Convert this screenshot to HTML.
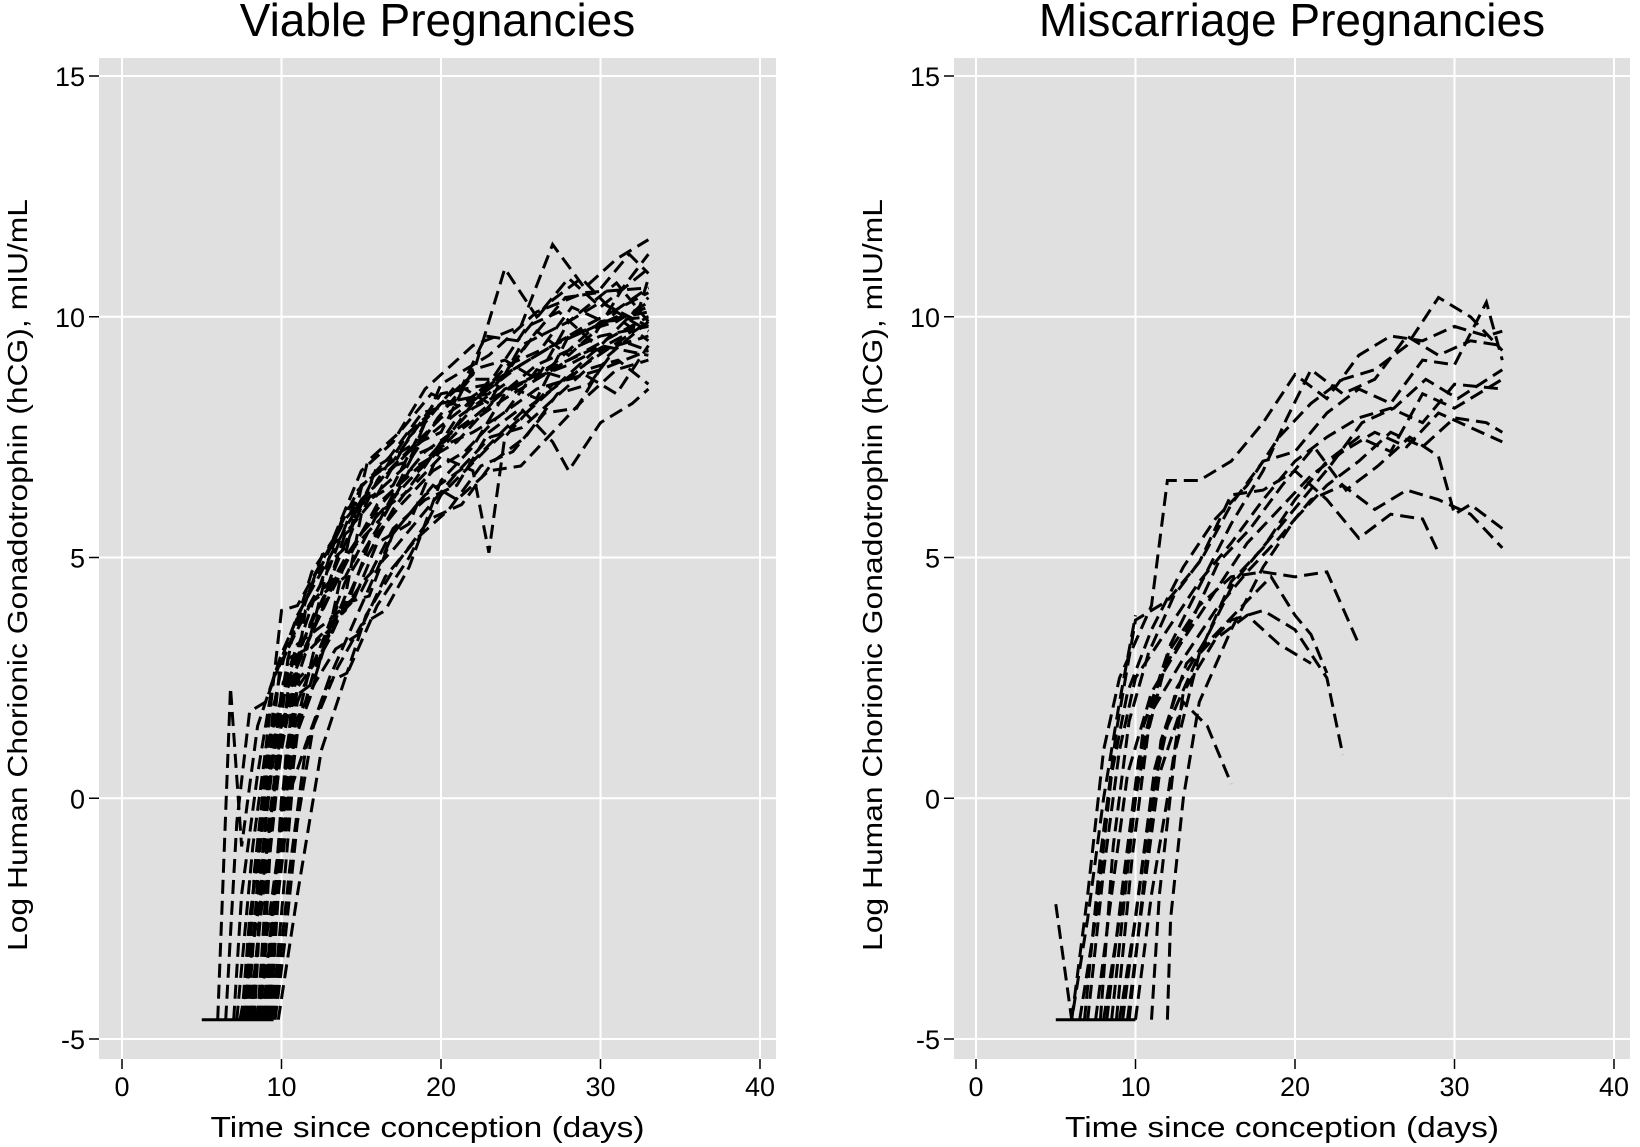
<!DOCTYPE html>
<html><head><meta charset="utf-8"><style>
html,body{margin:0;padding:0;background:#fff;}
svg{display:block;font-family:"Liberation Sans",Arial,sans-serif;}
</style></head><body>
<svg id="chart" width="1640" height="1147" viewBox="0 0 1640 1147" xmlns="http://www.w3.org/2000/svg"></svg>
<script>
// ---- data ----
const xTicks = [0, 10, 20, 30, 40];
const yTicks = [-5, 0, 5, 10, 15];
const panelTitles = ["Viable Pregnancies", "Miscarriage Pregnancies"];
const xAxisTitle = "Time since conception (days)";
const yAxisTitle = "Log Human Chorionic Gonadotrophin (hCG), mIU/mL";

const viableSeries = [
 [[5,-4.6],[9.5,-4.6]],
 [[6,-4.6],[6.8,2.3],[7.5,-1],[8.5,1.5],[10,3],[12,4.5],[14,5.8],[17,6.9],[20,7.9],[24,8.8],[28,9.6],[33,10.2]],
 [[6.5,-4.6],[7.2,-0.5],[8,1.8],[9,2],[11,3.8],[13,5],[15,6.2],[18,7.2],[21,8],[25,9],[29,9.8],[33,10.5]],
 [[7,-4.6],[7.5,-2],[8.5,0.5],[9.5,2.5],[11,3.5],[13,4.8],[15,6.5],[17,7],[20,8.4],[23,8.6],[27,9.4],[31,10],[33,9.5]],
 [[7.5,-4.6],[8,-2.5],[9,0],[10,2],[12,3.5],[14,5],[16,6],[19,7.2],[22,7.9],[26,9],[30,9.6],[33,9.8]],
 [[8,-4.6],[8.5,-3],[9,-1],[10,1.5],[11,2.8],[13,4.2],[15,5.5],[18,6.6],[21,7.6],[24,8.3],[28,9.1],[33,10]],
 [[8.5,-4.6],[9,-2],[9.8,0.5],[10.5,2.5],[12,3.8],[14,4.9],[16,6.1],[19,7],[22,8.1],[26,8.8],[30,9.4],[33,9.2]],
 [[9,-4.6],[9.5,-2.5],[10,0],[11,2],[12.5,3.2],[14,4.5],[16,5.6],[18,6.8],[21,7.4],[24,8.5],[28,9],[32,9.7],[33,10.8]],
 [[9.5,-4.6],[10.5,-1.5],[11.5,1],[13,2.5],[15,4],[17,5.5],[19,6.3],[22,7],[25,8],[29,9],[33,9.9]],
 [[9.8,-4.6],[11,-2],[12.5,1],[14,2.5],[16,4],[18,5],[20,6.3],[23,7.3],[26,8.2],[30,9.4],[33,10.4]],
 [[7.2,-4.6],[8.2,-1],[9,1],[10,3.9],[11,4],[13,5.2],[15,6.8],[17,7.4],[19,8.5],[22,9.4],[25,9.8],[27,11.5],[29,10.6],[31,11.2],[33,11.6]],
 [[8,-4.6],[9,-1.5],[10,1],[11,2.8],[12,3.5],[14,5.5],[16,6.3],[18,7.5],[20,8.2],[22,8.8],[24,11],[26,10],[28,10.8],[30,10.2],[33,11]],
 [[8.7,-4.6],[9.3,-1],[10,1.5],[11.5,3],[13,3.5],[14.5,5.8],[16,6.8],[18,7],[20,8.6],[23,9.2],[26,10.1],[29,10.5],[33,10.6]],
 [[7.8,-4.6],[8.3,-1.5],[9.2,1.2],[10.5,2.6],[12,4.1],[14,4.6],[16,5.9],[18,6.4],[20,7.1],[22,6.8],[23,5.1],[24,7.5],[27,8.6],[30,8.9],[33,9.3]],
 [[8.2,-4.6],[9,-0.5],[10,2.2],[11,3.2],[13,3.7],[15,4.3],[17,5.6],[19,6.2],[21,6.5],[23,7.6],[25,8.1],[27,7.4],[28,6.8],[30,7.8],[32,8.2],[33,8.5]],
 [[9.2,-4.6],[10,-1],[11,1.4],[12,2.6],[14,4.2],[15,5.9],[16,6.6],[18,7.6],[20,8.2],[23,8.4],[26,9.7],[28,9.2],[31,10.1],[33,9.7]],
 [[8.9,-4.6],[9.6,-2],[10.3,1],[11,2.3],[12.5,3],[13,3.3],[15,4.8],[17,6],[19,6.9],[21,7.9],[24,8.6],[26,8.3],[28,9.6],[31,9.9],[33,10.3]],
 [[7.6,-4.6],[8.4,-2.5],[9.4,0.8],[10.4,2],[12,2.4],[13.5,4],[15.5,4.2],[17,5.5],[19.5,6.5],[21,6.2],[23,6.8],[25,6.9],[27,7.6],[29,8.3],[31,8.9],[33,9.1]],
 [[9.6,-4.6],[10.2,-3],[11,-0.5],[12,1.5],[13.5,2.7],[15,3.6],[16.5,3.9],[18,4.8],[20,6.6],[22,7.3],[24,8.4],[27,9],[30,9.9],[33,10.1]],
 [[8.4,-4.6],[9.2,-3.2],[9.8,-1],[10.6,1.8],[11.5,3.9],[13,4.5],[15,6.1],[17,6.5],[19,7.8],[21,8.6],[23,8.2],[25,9.4],[28,9.9],[31,10.7],[33,9.9]],
 [[7.4,-4.6],[8,-3.5],[8.8,-1.8],[9.6,0.3],[10.4,2.9],[11.6,3.1],[13,4.9],[14,5.2],[16,6.9],[18,7.3],[20,7.6],[22,8.9],[24,9.1],[26,8.7],[28,9.9],[30,10.3],[33,9.8]],
 [[8.6,-4.6],[9.1,-2.8],[10,-0.6],[10.8,1.2],[11.8,2.1],[13,3.6],[14.5,4.1],[16,5.3],[18,5.7],[20,7.3],[22,7.6],[24,8],[26,8.9],[28,8.7],[30,9.3],[33,9.6]],
 [[9.3,-4.6],[9.8,-2],[10.5,0],[11.2,1.9],[12.2,3.3],[14,3.9],[15.5,5.3],[17.5,6.1],[19.5,6.8],[21.5,7.2],[23.5,7.9],[26,8.5],[29,8.8],[31,8.4],[33,9.4]],
 [[8.1,-4.6],[8.7,-2.2],[9.4,-0.2],[10.1,2.4],[11.4,3.3],[12.8,4.3],[14.2,5.1],[16.2,5.8],[18.2,7.1],[20.2,7.4],[22.2,8.3],[24.2,9],[26.2,9.3],[28.2,10.2],[30.2,9.9],[33,10]],
 [[7.9,-4.6],[8.6,-1.2],[9.5,1.9],[10.2,3],[11.2,3.7],[12.4,4.4],[14,6],[15.8,6.3],[17.8,6.9],[19.8,7.9],[21.8,8.7],[23.8,8.7],[25.8,9.6],[27.8,10.4],[29.8,10.5],[31.8,11.3],[33,10.9]],
 [[9.1,-4.6],[9.7,-1.6],[10.3,0.7],[11.1,2.5],[12.3,2.9],[13.7,3.8],[15.1,4.5],[17.1,5.2],[19.1,6],[21.1,6.8],[23.1,7.5],[25.1,7.7],[27.1,8.3],[29.1,8.9],[31.1,9.1],[33,8.6]],
 [[8.3,-4.6],[8.9,-0.8],[9.7,1.6],[10.7,3.4],[11.9,4.7],[13.3,5.4],[14.8,6.4],[16.8,7.1],[18.8,8],[20.8,8.2],[22.8,9.6],[24.8,9.5],[26.8,10.3],[28.8,10.8],[30.8,10.1],[33,10.6]],
 [[8.8,-4.6],[9.4,-2.6],[10.1,-0.3],[10.9,1.6],[12.1,2.4],[13.4,3.1],[14.8,3.4],[16.5,4.6],[18.5,5.4],[20.5,6],[22.5,6.9],[24.5,7.2],[26.5,8],[28.5,8.1],[30.5,9.2],[33,9.9]],
 [[7.7,-4.6],[8.2,-2],[9.1,0.2],[9.9,2.7],[11,3.6],[12.6,5.1],[14.4,5.6],[15.4,7],[17.4,7.6],[19.4,8.4],[21.4,8.1],[23.4,8.8],[25.4,9.8],[27.4,10.1],[29.4,9.5],[31.4,10.6],[33,11.3]],
 [[9.4,-4.6],[10,-2.4],[10.7,0.3],[11.5,1.1],[12.9,2.4],[14.1,2.6],[15.3,3.8],[17.3,4.9],[19.3,5.8],[21.3,6.1],[23.3,7],[25.3,7.5],[27.3,8.4],[29.3,8.6],[31.3,9.5],[33,9.3]]
];

const miscarriageSeries = [
 [[5,-4.6],[10,-4.6]],
 [[5,-2.2],[6,-4.6],[7,-2.5],[8,0],[9,2],[10,3.8]],
 [[6,-4.6],[7,-2],[8,1],[9,2.5],[11,4],[12,6.6],[14,6.6],[16,7],[18,7.8],[20,8.8],[22,8.3],[24,9.2],[26,9.6],[28,9.5],[30,9.8],[32,9.6],[33,9.7]],
 [[6.5,-4.6],[7.5,-2.5],[8.5,0.5],[9.5,2.2],[11,3.5],[13,4.8],[15,5.8],[17,6.5],[19,7.5],[21,8.2],[23,8.7],[25,8.9],[27,9.4],[29,10.4],[31,10],[33,9.3]],
 [[7,-4.6],[8,-1.5],[9,1],[10,2.5],[12,3.5],[14,4.5],[16,5.3],[18,6.2],[20,7],[22,7.5],[24,7.9],[26,8.1],[28,7.8],[30,8.6],[33,8.5]],
 [[7.5,-4.6],[8.5,-2],[9.5,0.5],[11,2.2],[13,3.3],[15,4.3],[17,5.3],[19,6],[21,6.7],[23,7.2],[25,7.6],[27,7.3],[29,8],[31,7.7],[33,7.4]],
 [[8,-4.6],[9,-2.5],[10,0],[11,1.8],[13,2.9],[15,3.9],[17,4.7],[19,5.4],[21,6.2],[23,6.5],[25,6],[27,6.4],[29,6.2],[31,5.9],[33,5.2]],
 [[8.5,-4.6],[9.5,-1.5],[10.5,1.5],[12,3],[14,4],[16,4.6],[18,4.7],[20,4.6],[22,4.7],[24,3.2]],
 [[9,-4.6],[10,-2.5],[11,0],[12,1.5],[14,3],[16,3.7],[18,3.9],[20,3.5],[22,2.5],[23,0.9]],
 [[9.5,-4.6],[10.5,-2],[11.5,0.5],[13,2],[14.5,1.5],[16,0.3]],
 [[10,-4.6],[11,-2],[12,0],[13,2.2],[15,3.3],[17,3.8],[19,3.2],[21,2.8]],
 [[12,-4.6],[12.2,-2.5],[13,0],[14,2],[16,3.5],[18,4.8],[20,5.8],[22,6.5],[24,7],[26,7.6],[28,7.3],[30,7.9],[32,7.8],[33,7.6]],
 [[11,-4.6],[11.5,-2],[12.5,1],[14,3],[16,4.5],[18,5.2],[20,6.2],[22,7],[24,7.5],[26,7.2],[28,8.4],[30,8.1],[33,8.7]],
 [[7.8,-4.6],[8.6,-1],[9.6,1.6],[10.8,3],[12.4,4.2],[14.2,5],[16,6.1],[18,7],[20,7.2],[22,8],[24,8.5],[26,8.2],[28,9.1],[30,9],[32,10.3],[33,9.1]],
 [[8.2,-4.6],[9.2,-1.8],[10.2,0.8],[11.6,2.6],[13.4,3.6],[15.2,4.9],[17.2,5.6],[19.2,6.5],[21.2,7.3],[23.2,6.4],[25.2,6.9],[27.2,7.5],[29,7.1],[30,5.9],[31,6.1],[33,5.6]],
 [[9.2,-4.6],[10.1,-2.2],[11.2,0.6],[12.6,2.3],[14.4,3.3],[16.2,4.5],[18.2,5.3],[20.2,6.1],[22.2,6.9],[24.2,7.8],[26.2,8.1],[28.2,8.7],[30.2,8.3],[33,8.9]],
 [[6.8,-4.6],[7.8,-1.2],[8.8,1.4],[10,3.7],[12,4.1],[14,4.9],[16,6.3],[18,6.4],[20,6.8],[22,6.2],[24,5.4],[26,5.9],[28,5.8],[29,5.1]],
 [[8.8,-4.6],[9.8,-1.2],[10.8,1.4],[12.2,3.2],[14,4.4],[16,5.7],[18,6.8],[19.5,7.9],[21,8.9],[23,8.4],[25,8.7],[27,9.6],[29,9.2],[31,9.5],[33,9.4]],
 [[9.6,-4.6],[10.6,-1.5],[11.6,1.2],[13.2,2.8],[15,3.4],[17,4.1],[18.5,4.6],[20,3.8],[21,3.4],[22,2.6]]
];
const allSeries = [viableSeries, miscarriageSeries];

// ---- layout ----
const NS = "http://www.w3.org/2000/svg";
const svgRoot = document.getElementById("chart");
const panels = [
  {left:99, right:776, x0:122, x40:760},
  {left:954, right:1630, x0:976, x40:1614}
];
const plotTop = 58, plotBottom = 1059, y15 = 76, yM5 = 1039;
function yScale(v){ return yM5 + (v + 5) * (y15 - yM5) / 20; }
function mk(tag, attrs, parent){
  const e = document.createElementNS(NS, tag);
  for (const k in attrs) e.setAttribute(k, attrs[k]);
  (parent || svgRoot).appendChild(e);
  return e;
}

panels.forEach((p, pi) => {
  const xScale = v => p.x0 + v * (p.x40 - p.x0) / 40;
  const g = mk("g", {});
  
  

  const bg = mk("rect", {x:p.left, y:plotTop, width:p.right - p.left, height:plotBottom - plotTop, fill:"#e0e0e0"}, g);
  
  

  xTicks.forEach(t => {
    const x = xScale(t);
    const l = mk("line", {x1:x, x2:x, y1:plotTop, y2:plotBottom, stroke:"#fff", "stroke-width":2}, g);
    
    
    const tk = mk("line", {x1:x, x2:x, y1:plotBottom, y2:plotBottom + 10, stroke:"#000", "stroke-width":1.5}, g);
    
    
    const tl = mk("text", {x:x, y:plotBottom + 37, "font-size":27, "text-anchor":"middle", fill:"#000"}, g);
    tl.textContent = t;
    
    
  });
  yTicks.forEach(t => {
    const y = yScale(t);
    const l = mk("line", {x1:p.left, x2:p.right, y1:y, y2:y, stroke:"#fff", "stroke-width":2}, g);
    
    
    const tk = mk("line", {x1:p.left - 10, x2:p.left, y1:y, y2:y, stroke:"#000", "stroke-width":1.5}, g);
    
    
    const tl = mk("text", {x:p.left - 14, y:y + 10, "font-size":27, "text-anchor":"end", fill:"#000"}, g);
    tl.textContent = t;
    
    
  });

  allSeries[pi].forEach((s) => {
    const d = s.map((pt, i) => (i ? "L" : "M") + xScale(pt[0]).toFixed(1) + " " + yScale(pt[1]).toFixed(1)).join(" ");
    const isFlat = s.length === 2 && s[0][1] === s[1][1];
    const path = mk("path", {d:d, fill:"none", stroke:"#000", "stroke-width":3,
      "stroke-dasharray": isFlat ? "none" : "14 7", "stroke-linejoin":"miter"}, g);
    
    
  });

  const title = mk("text", {x:(p.left + p.right) / 2, y:36, "font-size":46, "text-anchor":"middle", fill:"#000"}, g);
  title.textContent = panelTitles[pi];
  
  

  const xt = mk("text", {x:(p.left + p.right) / 2 - 10, y:1137, "font-size":29, "text-anchor":"middle",
    textLength:434, lengthAdjust:"spacingAndGlyphs", fill:"#000"}, g);
  xt.textContent = xAxisTitle;
  
  

  const yx = p.left - 72, yc = 575;
  const yt = mk("text", {x:yx, y:yc, "font-size":28, "text-anchor":"middle", fill:"#000",
    textLength:752, lengthAdjust:"spacingAndGlyphs",
    transform:"rotate(-90 " + yx + " " + yc + ")"}, g);
  yt.textContent = yAxisTitle;
  
  
});
</script>
</body></html>
